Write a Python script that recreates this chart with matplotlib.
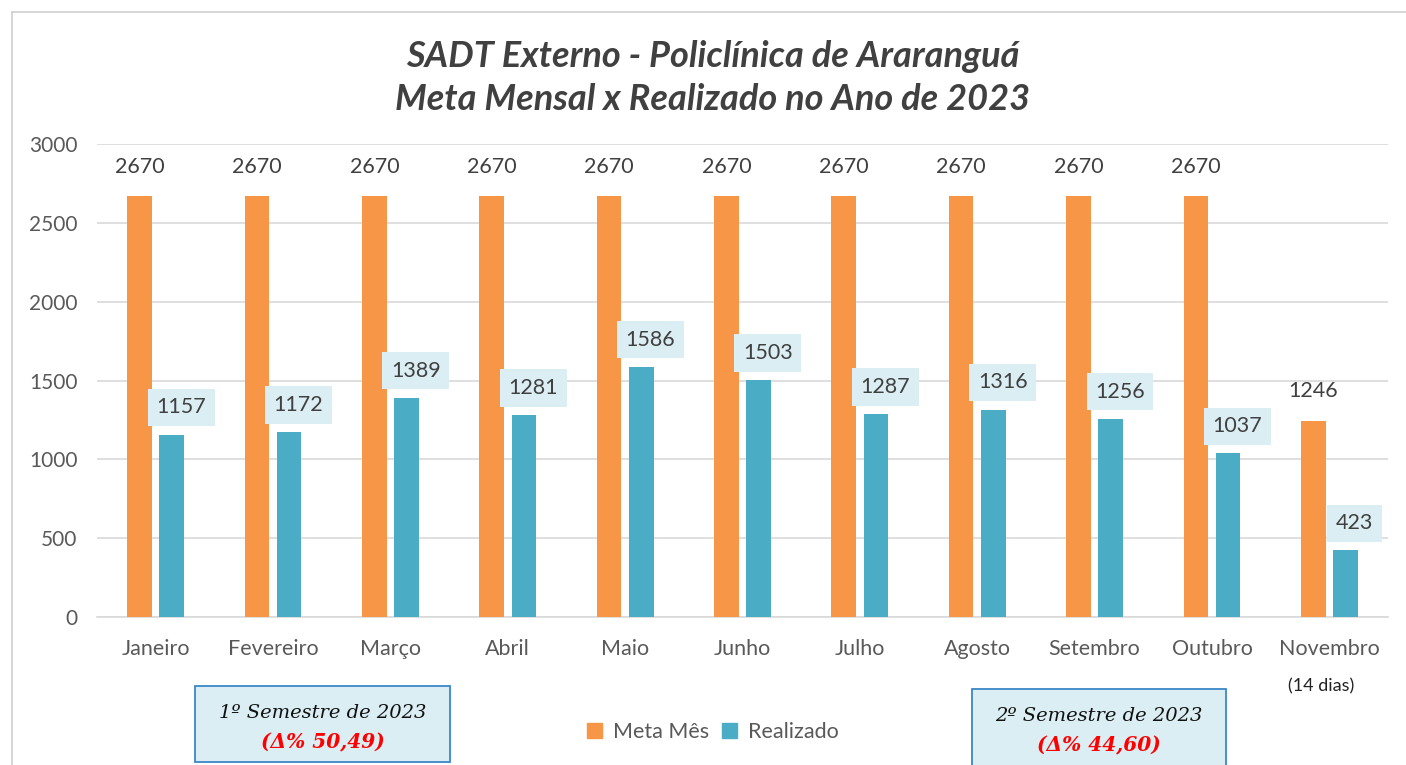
import matplotlib
matplotlib.use("Agg")
import matplotlib.pyplot as plt
from matplotlib.patches import Rectangle
from matplotlib.lines import Line2D
import numpy as np

months = ["Janeiro", "Fevereiro", "Março", "Abril", "Maio", "Junho", "Julho",
          "Agosto", "Setembro", "Outubro", "Novembro"]
meta = [2670, 2670, 2670, 2670, 2670, 2670, 2670, 2670, 2670, 2670, 1246]
realizado = [1157, 1172, 1389, 1281, 1586, 1503, 1287, 1316, 1256, 1037, 423]
yticks = [0, 500, 1000, 1500, 2000, 2500, 3000]
title = "SADT Externo - Policlínica de Araranguá\nMeta Mensal x Realizado no Ano de 2023"
sem1 = ("1º Semestre de 2023", "(Δ% 50,49)")
sem2 = ("2º Semestre de 2023", "(Δ% 44,60)")

ORANGE = "#f79646"
BLUE = "#4bacc6"
GRAY = "#595959"
LBLUE = "#dbeef4"

W, H = 1406, 765
fig = plt.figure(figsize=(W / 100, H / 100), dpi=100)
plt.rcParams['font.family'] = ['Lato', 'DejaVu Sans']

def fx(px):
    return px / W

def fy(py):
    return 1 - py / H

# outer frame
fig.add_artist(Line2D([fx(12), fx(12)], [fy(12), 0], color="#d0d0d0", lw=1.2))
fig.add_artist(Line2D([fx(12), 1], [fy(12), fy(12)], color="#d0d0d0", lw=1.2))

ax = fig.add_axes([fx(97), fy(617), fx(1388) - fx(97), fy(144) - fy(617)])
x = np.arange(len(months))
bw = 0.21
off = 0.137
ax.bar(x - off, meta, bw, color=ORANGE, zorder=3)
ax.bar(x + off, realizado, bw, color=BLUE, zorder=3)
ax.set_xlim(-0.5, len(months) - 0.5)
ax.set_ylim(0, 3000)
ax.set_yticks(yticks)
ax.set_yticklabels([str(t) for t in yticks], fontsize=15, color=GRAY)
ax.set_xticks(x)
ax.set_xticklabels(months, fontsize=15.5, color=GRAY)
ax.tick_params(axis='x', length=0, pad=16)
ax.tick_params(axis='y', length=0, pad=14)
ax.grid(axis='y', color="#d9d9d9", lw=1.2, zorder=0)
for s in ["top", "right", "left"]:
    ax.spines[s].set_visible(False)
ax.spines["bottom"].set_color("#d9d9d9")
ax.spines["bottom"].set_linewidth(1.2)

for i, v in enumerate(meta):
    ax.text(i - off, v + 185, str(v), ha="center", va="center", fontsize=15.5, color="#404040", zorder=5)
for i, v in enumerate(realizado):
    ax.text(i + off + 0.08, v + 172, str(v), ha="center", va="center", fontsize=15.5, color="#404040",
            zorder=5, bbox=dict(boxstyle="square,pad=0.4", facecolor=LBLUE, edgecolor="none"))

fig.text(0.507, fy(78), title, ha="center", va="center", fontsize=26, fontweight="bold",
         fontstyle="italic", color="#404040", linespacing=1.38)

fig.text(fx(1321), fy(686), "(14 dias)", ha="center", va="center", fontsize=13, color="#222222")

# legend
handles = [Rectangle((0, 0), 1, 1, color=ORANGE), Rectangle((0, 0), 1, 1, color=BLUE)]
fig.legend(handles, ["Meta Mês", "Realizado"], loc="center", bbox_to_anchor=(fx(713), fy(732)),
           ncol=2, frameon=False, fontsize=15.5, labelcolor=GRAY, handlelength=0.7,
           handleheight=0.7, handletextpad=0.5, columnspacing=0.6)

def sem_box(x0, y0, x1, y1, lines):
    fig.add_artist(Rectangle((fx(x0), fy(y1)), fx(x1) - fx(x0), fy(y0) - fy(y1),
                             facecolor=LBLUE, edgecolor="#3a86c8", lw=1.3, transform=fig.transFigure))
    cx = fx((x0 + x1) / 2)
    fig.text(cx, fy(y0 + 27), lines[0], ha="center", va="center", fontsize=14,
             family="DejaVu Serif", fontstyle="italic", color="#111111")
    fig.text(cx, fy(y0 + 56), lines[1], ha="center", va="center", fontsize=14.5,
             family="DejaVu Serif", fontstyle="italic", fontweight="bold", color="#ff0000")

sem_box(195, 686, 450, 762, sem1)
sem_box(972, 689, 1226, 766, sem2)

fig.savefig("out.png", dpi=100)
